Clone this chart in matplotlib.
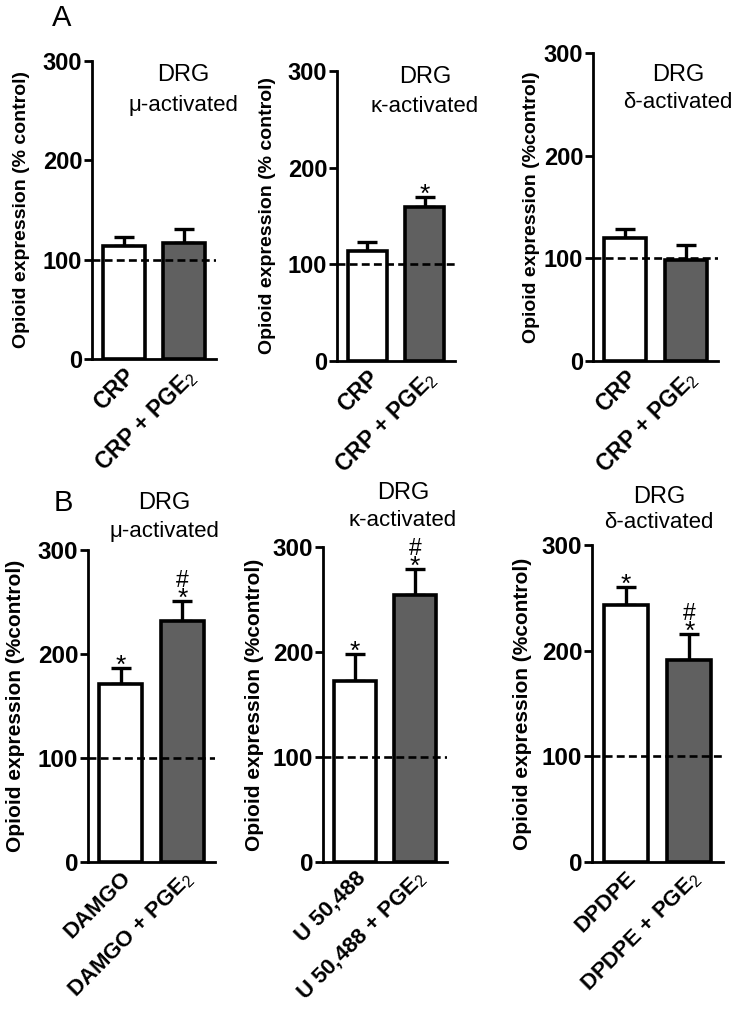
import matplotlib
matplotlib.use("Agg")
import matplotlib.pyplot as plt
import matplotlib.transforms as mtransforms

plt.rcParams['font.family'] = ['Liberation Sans', 'DejaVu Sans']
plt.rcParams['mathtext.fontset'] = 'custom'
plt.rcParams['mathtext.rm'] = 'Liberation Sans'
plt.rcParams['mathtext.it'] = 'Liberation Sans:italic'
plt.rcParams['mathtext.bf'] = 'Liberation Sans:bold'

# ---------------- data ----------------
receptors = ["\u03bc-activated", "\u03ba-activated", "\u03b4-activated"]
row_a_labels = [["CRP", "CRP + PGE$_{\\mathrm{2}}$"]] * 3
row_b_labels = [["DAMGO", "DAMGO + PGE$_{\\mathrm{2}}$"],
                ["U 50,488", "U 50,488 + PGE$_{\\mathrm{2}}$"],
                ["DPDPE", "DPDPE + PGE$_{\\mathrm{2}}$"]]
row_a_means = [[114, 117], [113.5, 159], [120, 98]]
row_a_sem = [[9, 14], [9.5, 11], [9, 15]]
row_a_sig = [["", ""], ["", "*"], ["", ""]]
row_b_means = [[171, 232], [172, 254], [243, 191]]
row_b_sem = [[16, 19], [26, 25], [17, 25]]
row_b_sig = [["*", "*#"], ["*", "*#"], ["*", "*#"]]
ylabels_a = ["Opioid expression (% control)", "Opioid expression (% control)",
             "Opioid expression (%control)"]
ylabel_b = "Opioid expression (%control)"
yticks = [0, 100, 200, 300]

# ---------------- layout (pixel boxes) ----------------
W, H = 739, 1023
fig = plt.figure(figsize=(W / 100, H / 100), dpi=100)

# (spine_x, right_x, y0, y300, ylabel_x, title_x, title_y1, title_y2)
boxes_a = [(92, 216, 359, 61, 22, 183, 75, 106),
           (337, 455, 361, 71, 268, 425, 77, 106),
           (593, 718, 361, 53, 532, 678, 75, 103)]
boxes_b = [(88, 215, 862, 550, 16, 164, 503, 532),
           (323, 447, 862, 547, 255, 403, 493, 521),
           (592, 723, 862, 545, 523, 659, 497, 523)]

dark = "#606060"


def draw(box, labels, means, sems, sigs, ylabel, recep, ylab_size, tick_size, xt_size):
    sx, rx, y0, y3, lx, tx, ty1, ty2 = box
    ax = fig.add_axes([sx / W, 1 - y0 / H, (rx - sx) / W, (y0 - y3) / H])
    xs = [0, 1]
    ax.bar(xs, means, width=0.69, color=["white", dark], edgecolor="black",
           linewidth=2.6, zorder=2)
    ax.errorbar(xs, means, yerr=[[0, 0], sems], fmt="none", ecolor="black",
                elinewidth=2.4, capsize=7, capthick=2.4, zorder=1)
    ax.axhline(100, color="black", linestyle=(0, (3, 1.6)), linewidth=1.9, zorder=3)
    ax.set_xlim(-0.53, 1.53)
    ax.set_ylim(0, 300)
    ax.set_yticks(yticks)
    ax.set_yticklabels([str(t) for t in yticks], fontsize=tick_size, fontweight="bold")
    ax.set_xticks(xs)
    ax.set_xticklabels(labels, rotation=45, ha="right", rotation_mode="anchor",
                       fontsize=xt_size, fontweight="bold")
    off = mtransforms.ScaledTranslation(7 / 100, 0, fig.dpi_scale_trans)
    for lab in ax.get_xticklabels():
        lab.set_transform(lab.get_transform() + off)
    ax.tick_params(axis="x", length=0, pad=4)
    ax.tick_params(axis="y", length=6, width=2, pad=1)
    for s in ["top", "right"]:
        ax.spines[s].set_visible(False)
    for s in ["left", "bottom"]:
        ax.spines[s].set_linewidth(2)
    ax.set_ylabel(ylabel, fontsize=ylab_size, fontweight="bold", va="center")
    ax.yaxis.set_label_coords((lx - sx) / (rx - sx), 0.5)
    for x, m, e, sg in zip(xs, means, sems, sigs):
        top = m + e
        if "*" in sg:
            ax.annotate("*", (x, top), xytext=(0, -3.5), textcoords="offset points",
                        ha="center", va="baseline", fontsize=19)
        if "#" in sg:
            ax.annotate("#", (x, top), xytext=(0, 10), textcoords="offset points",
                        ha="center", va="baseline", fontsize=16.5)
    fig.text(tx / W, 1 - ty1 / H, "DRG", ha="center", va="center", fontsize=17)
    fig.text(tx / W, 1 - ty2 / H, recep, ha="center", va="center", fontsize=16)
    return ax


for i in range(3):
    draw(boxes_a[i], row_a_labels[i], row_a_means[i], row_a_sem[i], row_a_sig[i],
         ylabels_a[i], receptors[i], 14, 17, 16.5)
    draw(boxes_b[i], row_b_labels[i], row_b_means[i], row_b_sem[i], row_b_sig[i],
         ylabel_b, receptors[i], 15, 17.5, 16)

fig.text(62 / W, 1 - 18 / H, "A", ha="center", va="center", fontsize=21)
fig.text(63 / W, 1 - 503 / H, "B", ha="center", va="center", fontsize=21)

fig.savefig("out.png", dpi=100)
